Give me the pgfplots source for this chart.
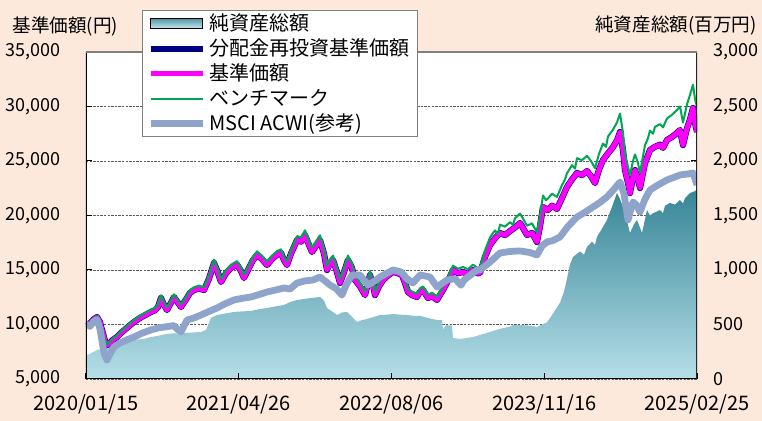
\documentclass[border=0pt]{standalone}
\usepackage{fontspec}
\setmainfont{Noto Sans CJK JP}
\usepackage{pgfplots}
\pgfplotsset{compat=1.18}
\usepackage{pgfplotstable}

\definecolor{bgpeach}{RGB}{252,233,219}
\definecolor{navyline}{RGB}{0,0,128}
\definecolor{magline}{RGB}{255,0,255}
\definecolor{grnline}{RGB}{0,166,81}
\definecolor{msciline}{RGB}{142,164,202}
\definecolor{areatop}{RGB}{55,133,152}
\definecolor{areamid}{RGB}{138,197,213}
\definecolor{areabot}{RGB}{182,223,232}
\definecolor{gridc}{RGB}{90,90,90}

% x = position along the time axis (0 = 2020/01/15, 611 = 2025/02/25)
\pgfplotstableread{
x y
0 10000
4 10100
8 10500
11 10690
14 10200
16 9500
19 8500
21 8100
24 8300
27 8600
31 8850
36 9300
41 9700
48 10230
54 10600
60 10900
65 11150
69 11300
72 11600
75 12430
78 11800
81 11330
85 12000
88 12520
92 12000
95 11600
100 12300
104 12900
108 13160
113 13300
118 13160
123 14200
128 15640
131 15000
135 13900
140 14700
145 15180
151 15500
155 14900
158 14270
163 15200
167 15900
171 16380
176 16000
181 15460
186 16000
191 16400
195 16560
198 15900
201 15460
205 16500
208 17110
211 17750
215 17600
219 18210
223 17300
226 16650
230 17200
234 17750
238 16500
241 15000
244 15600
247 15920
251 14800
254 13810
258 14800
262 15920
266 15200
269 14080
274 13500
279 12700
282 13800
284 14540
287 13600
289 12700
293 13500
297 14080
302 14500
307 14820
312 14700
316 14540
319 13800
322 12980
326 12700
331 12520
334 13000
337 13160
342 12430
346 12600
351 12250
354 12700
357 13160
362 14000
367 15000
372 14700
377 14820
382 14600
387 15000
391 14700
394 14720
399 16200
404 17290
409 17900
414 18390
419 18200
424 18570
429 18900
434 19310
438 18700
441 18210
446 18400
451 17570
454 19000
457 20780
462 20500
466 20900
471 20600
476 21600
481 22620
486 23300
491 23900
496 23700
501 24080
505 23600
509 22980
513 24200
517 25090
522 25700
527 26280
531 26900
534 27660
537 26000
539 24170
542 23000
544 22060
547 23500
549 24170
552 23300
554 22520
559 24800
564 26010
569 26300
574 26500
577 26200
581 26930
586 27200
590 27500
594 27840
597 26460
601 28000
604 28800
607 29860
609 28500
611 27660
}\navdata

\pgfplotstableread{
x y
0 10000
4 10150
8 10560
11 10760
14 10280
16 9580
19 8590
21 8190
24 8400
27 8720
31 8990
36 9460
41 9880
48 10430
54 10810
60 11120
65 11370
69 11530
72 11830
75 12680
78 12040
81 11560
85 12240
88 12770
92 12240
95 11830
100 12550
104 13160
108 13420
113 13570
118 13420
123 14480
128 15950
131 15300
135 14180
140 14990
145 15480
151 15810
155 15200
158 14560
163 15500
167 16220
171 16710
176 16320
181 15770
186 16320
191 16730
195 16890
198 16220
201 15770
205 16830
208 17450
211 18110
215 18000
219 18640
223 17720
226 17060
230 17630
234 18190
238 16910
241 15380
244 15990
247 16320
251 15170
254 14160
258 15170
262 16320
266 15580
269 14430
274 13840
279 13020
282 14150
284 14900
287 13940
289 13020
293 13840
297 14430
302 14860
307 15190
312 15070
316 14900
319 14150
322 13300
326 13020
331 12830
334 13330
337 13490
342 12740
346 12920
351 12560
354 13020
357 13490
362 14350
367 15400
372 15120
377 15270
382 15060
387 15500
391 15210
394 15240
399 16800
404 17980
407 18400
409 18630
412 18300
414 19160
419 18980
424 19380
427 19150
429 19750
434 20180
438 19560
441 19060
446 19280
451 18430
454 19950
457 21840
460 21400
462 21560
466 22000
471 21700
476 22790
479 23300
481 23880
486 24610
489 24300
491 25260
496 25070
501 25480
505 24990
509 24340
513 25650
517 26600
520 26300
522 27250
527 27880
531 28540
534 29350
537 27610
539 25670
542 24450
544 23700
547 25000
549 25600
552 24800
554 23900
559 26450
562 27100
564 27780
567 27500
569 28130
574 28380
577 28080
581 28900
586 29240
590 29590
594 30000
597 28520
601 30200
604 31070
607 32000
609 30700
611 29950
}\bmdata

\pgfplotstableread{
x y
0 10000
4 9830
8 10300
11 10450
14 9600
18 7380
21 6740
24 7300
28 7940
34 8300
41 8600
48 8850
56 9200
65 9500
73 9700
81 9800
88 9900
92 9500
95 9310
101 10410
108 10600
115 10870
123 11200
131 11510
139 11900
148 12250
156 12400
165 12520
173 12750
181 12980
189 13150
198 13350
204 13250
211 13800
219 14000
227 14080
234 14360
239 14000
244 13620
250 13300
256 12700
260 13600
266 14540
274 14540
282 13620
289 14000
294 14360
301 14700
307 15000
315 14820
321 14200
327 13810
334 14540
344 14360
351 13440
361 14080
369 14200
375 13600
378 14080
384 14500
391 15000
394 15000
404 15730
414 16560
424 16700
434 16750
444 16600
451 16380
456 17200
461 17570
467 17700
474 18030
482 19000
491 19860
499 20300
507 20780
514 21200
521 21700
527 22300
534 23070
538 22000
542 19590
547 21240
550 21000
554 20320
559 21500
564 22340
572 22800
581 23260
588 23500
594 23720
601 23800
607 23900
611 22800
}\mscidata

\pgfplotstableread{
x y
0 220
4 230
11 266
18 280
25 294
34 320
48 358
59 370
65 385
74 400
81 413
89 420
95 400
97 422
104 425
115 431
120 450
125 560
131 587
139 600
148 615
156 620
165 624
173 640
181 651
189 665
198 679
204 706
211 725
219 735
227 745
234 752
238 720
241 651
246 620
251 587
256 610
261 615
266 570
271 523
276 540
281 550
288 570
294 587
301 590
307 596
314 590
321 587
327 580
334 578
342 560
351 541
356 541
357 455
360 495
366 490
367 376
374 367
380 375
387 385
394 404
404 431
414 460
424 480
427 495
434 495
444 490
451 477
456 500
461 520
467 600
474 700
478 800
481 920
484 1050
487 1119
494 1170
498 1140
501 1211
506 1260
509 1230
511 1303
516 1380
521 1459
526 1580
531 1706
534 1650
537 1578
541 1450
544 1339
548 1420
551 1459
556 1339
561 1550
564 1500
567 1520
574 1550
577 1520
579 1590
584 1615
589 1600
594 1642
597 1610
599 1660
604 1706
608 1720
611 1734
}\areadata

\begin{document}
\begin{tikzpicture}
\useasboundingbox (0,0) rectangle (381pt,210.5pt);
\fill[bgpeach] (0,0) rectangle (381pt,210.5pt);

\node[anchor=west, inner sep=0pt, font=\fontsize{9.3}{11}\selectfont] at (6pt,197.5pt) {基準価額(円)};
\node[anchor=east, inner sep=0pt, font=\fontsize{9.3}{11}\selectfont] at (378.5pt,197.5pt) {純資産総額(百万円)};

% right axis: net assets (area)
\begin{axis}[
  at={(43pt,21pt)}, anchor=south west,
  width=305.5pt, height=163.5pt, scale only axis,
  xmin=0, xmax=611, ymin=0, ymax=3000,
  axis background/.style={fill=white},
  xtick=\empty,
  ytick={0,500,...,3000},
  ytick pos=right,
  ymajorgrids,
  major grid style={gridc, line width=0.4pt, dash pattern=on 1.2pt off 0.6pt},
  yticklabel style={font=\fontsize{9}{10}\selectfont, xshift=4.5pt},
  /pgf/number format/assume math mode=true,
  /pgf/number format/1000 sep={,},
  scaled y ticks=false,
  axis line style={draw=none},
  tick style={black, line width=0.5pt},
  major tick length=3pt,
]
\addplot[draw=none, top color=areatop, middle color=areamid, bottom color=areabot] table {\areadata} \closedcycle;
\end{axis}

% left axis: prices
\begin{axis}[
  at={(43pt,21pt)}, anchor=south west,
  width=305.5pt, height=163.5pt, scale only axis,
  xmin=0, xmax=611, ymin=5000, ymax=35000,
  xtick={0,152.75,305.5,458.25,611},
  xticklabels={2020/01/15,2021/04/26,2022/08/06,2023/11/16,2025/02/25},
  xtick pos=left, ytick pos=left,
  ytick={5000,10000,...,35000},
  xticklabel style={font=\fontsize{10}{12}\selectfont, yshift=-4.5pt},
  yticklabel style={font=\fontsize{9}{10}\selectfont, xshift=-9pt},
  /pgf/number format/assume math mode=true,
  /pgf/number format/1000 sep={,},
  scaled y ticks=false,
  axis line style={draw=none},
  tick style={black, line width=0.5pt},
  major tick length=3pt,
  legend image code/.code={\draw[#1] (0pt,0pt) -- (26pt,0pt);},
  legend style={at={(0.0917,1.128)}, anchor=north west, draw=gray, fill=white,
    line width=0.5pt, font=\fontsize{10}{12}\selectfont,
    inner xsep=2.5pt, inner ysep=0.5pt, row sep=0.5pt,
    nodes={inner xsep=1.5pt, inner ysep=0.5pt, text height=8.7pt, text depth=2.3pt, anchor=west},
    cells={anchor=west}},
  legend cell align=left,
]
\addlegendimage{legend image code/.code={\fill[top color=areatop!80!areabot, bottom color=areabot!70!white] (0pt,-2.5pt) rectangle (26pt,2.5pt);}}
\addlegendentry{純資産総額}
\addplot[navyline, line width=3.1pt, line join=round] table {\navdata};
\addlegendentry{分配金再投資基準価額}
\addplot[magline, line width=2.5pt, line join=round] table {\navdata};
\addlegendentry{基準価額}
\addplot[grnline, line width=1pt, line join=round] table {\bmdata};
\addlegendentry{ベンチマーク}
\addplot[msciline, line width=3.4pt, line join=round] table {\mscidata};
\addlegendentry{MSCI ACWI(参考)}
\draw[black, line width=1pt] (rel axis cs:0,1) -- (rel axis cs:0,0) -- (rel axis cs:1,0);
\draw[black!85, line width=0.8pt] (rel axis cs:1,0) -- (rel axis cs:1,1);
\draw[gray, line width=1pt] (rel axis cs:0,1) -- (rel axis cs:1,1);
\end{axis}
\end{tikzpicture}
\end{document}
